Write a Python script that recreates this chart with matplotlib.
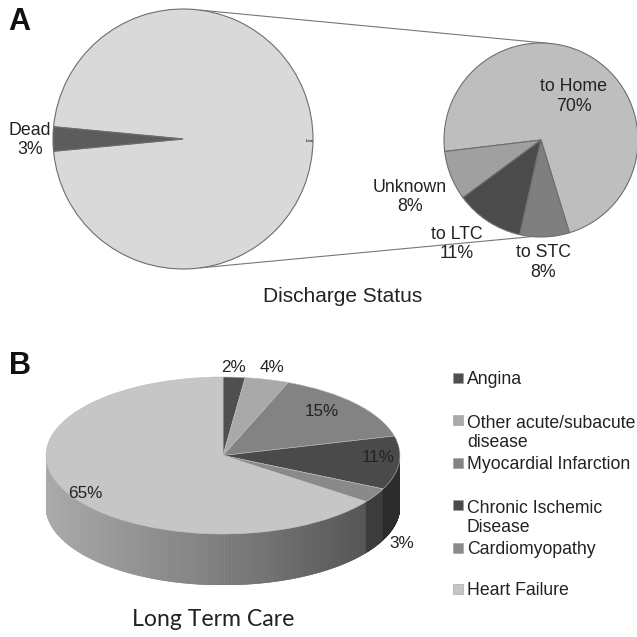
import numpy as np
import matplotlib
matplotlib.use("Agg")
import matplotlib.pyplot as plt
from matplotlib.patches import Polygon, Rectangle

# ---------------- data ----------------
status_labels = ["Live", "Dead"]
status_values = [97, 3]

live_labels = ["to Home", "Unknown", "to LTC", "to STC"]
live_values = [70, 8, 11, 8]

ltc_labels = ["Angina", "Other acute/subacute\ndisease", "Myocardial Infarction",
              "Chronic Ischemic\nDisease", "Cardiomyopathy", "Heart Failure"]
ltc_values = [2, 4, 15, 11, 3, 65]

# ---------------- style ----------------
W = H = 637
FONT = "Liberation Sans"
plt.rcParams["font.family"] = [FONT, "DejaVu Sans"]

fig = plt.figure(figsize=(6.37, 6.37), dpi=100)
fig.patch.set_facecolor("white")
ax = fig.add_axes([0, 0, 1, 1])


def P(y):
    return H - y


EDGE = "#6e6e6e"

# ---- Panel A : big pie ----
big_c = (183, 139)
big_r = 130
dead_frac = status_values[1] / sum(status_values)
ax.pie(status_values, colors=["#d9d9d9", "#5c5c5c"], center=(big_c[0], P(big_c[1])),
       radius=big_r, startangle=180 + dead_frac * 180, counterclock=True, frame=True,
       wedgeprops=dict(edgecolor=EDGE, linewidth=0.8))

# ---- Panel A : small pie ----
sm_c = (541, 140)
sm_r = 97
ax.pie(live_values, colors=["#bebebe", "#a0a0a0", "#4b4b4b", "#7f7f7f"],
       center=(sm_c[0], P(sm_c[1])), radius=sm_r, startangle=-73, counterclock=True,
       frame=True, wedgeprops=dict(edgecolor=EDGE, linewidth=0.8))

# connecting lines
def onc(c, r, a):
    a = np.deg2rad(a)
    return c[0] + r * np.cos(a), P(c[1]) + r * np.sin(a)

for a1, a2 in [(82.5, 86.5), (-82.5, -74)]:
    x1, y1 = onc(big_c, big_r, a1)
    x2, y2 = onc(sm_c, sm_r, a2)
    ax.plot([x1, x2], [y1, y2], color="#777777", lw=0.8, zorder=0)

ax.set_xlim(0, W)
ax.set_ylim(0, H)
ax.set_aspect("auto")
ax.axis("off")

fs = 12.8
ax.text(30, P(140), f"{status_labels[1]}\n{status_values[1]}%", ha="center", va="center",
        fontsize=fs, color="#222222", linespacing=1.2)
ax.text(310, P(141), status_labels[0], ha="center", va="center", fontsize=3,
        color="#333333", fontweight="bold")

lab_pos = {"to Home": (574, 96.5), "Unknown": (410, 197), "to LTC": (457, 244),
           "to STC": (543, 262.5)}
for name, v in zip(live_labels, live_values):
    x, y = lab_pos[name]
    ax.text(x, P(y), f"{name}\n{v}%", ha="center", va="center", fontsize=fs,
            color="#222222", linespacing=1.2)

ax.text(343, P(297), "Discharge Status", ha="center", va="center", fontsize=15,
        color="#222222")
ax.text(8, P(22), "A", ha="left", va="center", fontsize=22, fontweight="bold", color="#111111")
ax.text(9, P(366), "B", ha="left", va="center", fontsize=22, fontweight="bold", color="#111111")

# ---- Panel B : 3D-like pie ----
face_cols = ["#4f4f4f", "#a9a9a9", "#838383", "#4a4a4a", "#8a8a8a", "#c6c6c6"]
side_cols = ["#333333", "#6a6a6a", "#555555", "#2c2c2c", "#3c3c3c", None]

x0, x1 = 46, 400
ytop, ybot_face, depth = 377, 534, 51
ry_px = (ybot_face - ytop) / 2
d = depth / ry_px
bx = fig.add_axes([x0 / W, (H - (ybot_face + depth)) / H, (x1 - x0) / W,
                   (ybot_face + depth - ytop) / H])
bx.pie(ltc_values, colors=face_cols, startangle=90, counterclock=False, radius=1,
       center=(0, 0), frame=True, wedgeprops=dict(linewidth=0.4, edgecolor="#bdbdbd"))

cum = np.cumsum(ltc_values) / sum(ltc_values)
bounds = [(90 - 360 * c) % 360 for c in cum]
thetas = np.linspace(180, 360, 721)
thetas = np.unique(np.concatenate([thetas, [b for b in bounds if 180 <= b <= 360]]))
for t0, t1 in zip(thetas[:-1], thetas[1:]):
    tm = 0.5 * (t0 + t1)
    frac = ((90 - tm) % 360) / 360
    k = int(np.searchsorted(cum, frac))
    xm = np.cos(np.deg2rad(tm))
    if side_cols[k] is None:
        g = 0.67 + (0.34 - 0.67) * (xm + 1) / 1.8
        col = (g, g, g)
    else:
        col = side_cols[k]
    a0, a1 = np.deg2rad(t0), np.deg2rad(t1)
    pts = [(np.cos(a0), np.sin(a0)), (np.cos(a1), np.sin(a1)),
           (np.cos(a1), np.sin(a1) - d), (np.cos(a0), np.sin(a0) - d)]
    bx.add_patch(Polygon(pts, closed=True, facecolor=col, edgecolor=col, lw=0.4, zorder=0))

bx.set_aspect("auto")
bx.set_xlim(-1, 1)
bx.set_ylim(-1 - d, 1)
bx.axis("off")

# percentage labels of panel B (pixel positions), drawn above the 3D pie
b_lab_pos = [(233, 367), (272, 367), (322, 412), (378, 458), (402, 544), (85, 493)]
for (x, y), v in zip(b_lab_pos, ltc_values):
    bx.text(x, P(y), f"{v}%", ha="center", va="center", fontsize=12.3, color="#222222",
            zorder=5, transform=ax.transData, clip_on=False)

ax.text(213, P(620), "Long Term Care", ha="center", va="center", fontsize=16.6,
        family=["Lato", "DejaVu Sans"], color="#222222")

# legend
leg_y = [378, 420, 463, 505, 548, 589]
line_h = 1.2 * 12.7 * 100 / 72
for lab, y, c in zip(ltc_labels, leg_y, face_cols):
    n = lab.count("\n")
    ax.add_patch(Rectangle((453, P(y) - 5), 10, 10, facecolor=c, edgecolor="#9a9a9a",
                           lw=0.4))
    ax.text(467, P(y) - 6.3 - n * line_h, lab, ha="left", va="baseline", fontsize=12.7,
            color="#222222", linespacing=1.2)

fig.savefig("out.png", dpi=100, facecolor="white")
